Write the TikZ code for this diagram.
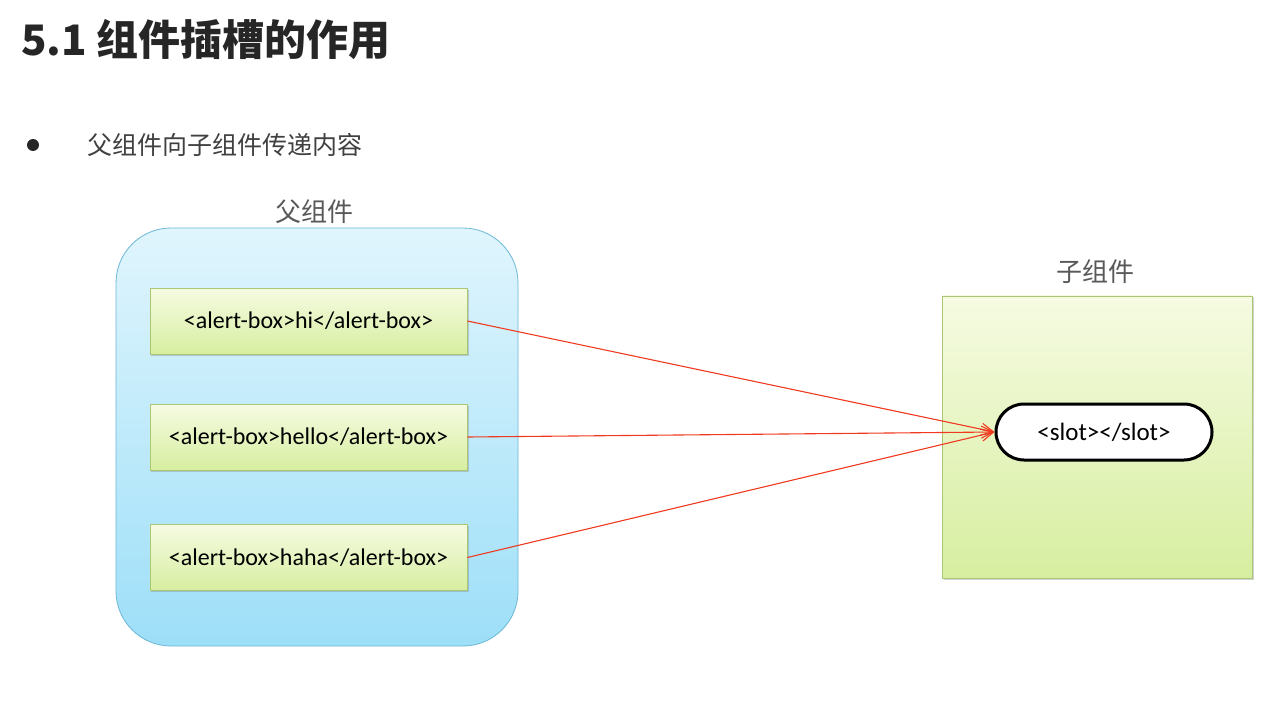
\documentclass[tikz,border=0pt]{standalone}
\usepackage{fontspec}
\setmainfont{Carlito}
\newfontfamily\cjk{Noto Sans CJK SC}
\usetikzlibrary{arrows.meta,shapes.misc,shadows}
\definecolor{titlegray}{HTML}{262626}
\definecolor{textgray}{HTML}{404040}
\definecolor{labelgray}{HTML}{595959}
\definecolor{bluetop}{HTML}{E0F5FD}
\definecolor{bluebot}{HTML}{9DDFF8}
\definecolor{blueedge}{HTML}{6BB8D6}
\definecolor{greentop}{HTML}{F6FBE2}
\definecolor{greenbot}{HTML}{D7EEA0}
\definecolor{greenedge}{HTML}{A9C774}
\definecolor{arrowred}{HTML}{F03A20}
\tikzset{
  parentbox/.style={draw=blueedge, line width=0.8bp, rounded corners=55bp,
    top color=bluetop, bottom color=bluebot},
  itembox/.style={draw=greenedge, line width=0.8bp, top color=greentop, bottom color=greenbot,
    drop shadow={shadow xshift=1.5bp, shadow yshift=-1.5bp, opacity=0.35},
    font=\fontsize{24bp}{26bp}\selectfont, text=black},
  childbox/.style={draw=greenedge, line width=0.8bp, top color=greentop, bottom color=greenbot,
    drop shadow={shadow xshift=1.5bp, shadow yshift=-1.5bp, opacity=0.35}},
  slotnode/.style={draw=black, line width=3bp, fill=white, rounded rectangle,
    minimum width=216bp, minimum height=56bp, inner sep=0pt,
    font=\fontsize{25bp}{27bp}\selectfont},
  caption/.style={font=\cjk\fontsize{26bp}{28bp}\selectfont, text=labelgray},
  feed/.style={draw=arrowred, line width=1.1bp, -{Straight Barb[length=12bp,width=12bp,line width=1.1bp]}}
}
\begin{document}
\begin{tikzpicture}[x=1bp,y=-1bp]
\useasboundingbox (0,0) rectangle (1275,722);
\fill[white] (0,0) rectangle (1275,722);
% title
\node[anchor=west, inner sep=0, text=titlegray, font=\cjk\bfseries\fontsize{42bp}{44bp}\selectfont] (title) at (21,40) {5.1 组件插槽的作用};
% bullet
\node[circle, fill=titlegray, inner sep=0, minimum size=12bp] (bullet) at (33,145) {};
\node[anchor=west, inner sep=0, text=textgray, font=\cjk\fontsize{25bp}{28bp}\selectfont] (sub) at (87,145) {父组件向子组件传递内容};
% parent
\draw[parentbox] (116,228) rectangle (518,646);
\node[caption] (plabel) at (314,212) {父组件};
\node[itembox, minimum width=317bp, minimum height=66bp, inner sep=0] (b1) at (308.5,321) {<alert-box>hi</alert-box>};
\node[itembox, minimum width=317bp, minimum height=66bp, inner sep=0] (b2) at (308.5,437) {<alert-box>hello</alert-box>};
\node[itembox, minimum width=317bp, minimum height=66bp, inner sep=0] (b3) at (308.5,557.5) {<alert-box>haha</alert-box>};
% child
\node[childbox, minimum width=310bp, minimum height=282bp, inner sep=0] (child) at (1097,437) {};
\node[caption] (clabel) at (1095,272) {子组件};
\node[slotnode] (slot) at (1104,432) {<slot></slot>};
% arrows
\draw[feed] (b1.east) -- (slot.west);
\draw[feed] (b2.east) -- (slot.west);
\draw[feed] (b3.east) -- (slot.west);
\end{tikzpicture}
\end{document}
